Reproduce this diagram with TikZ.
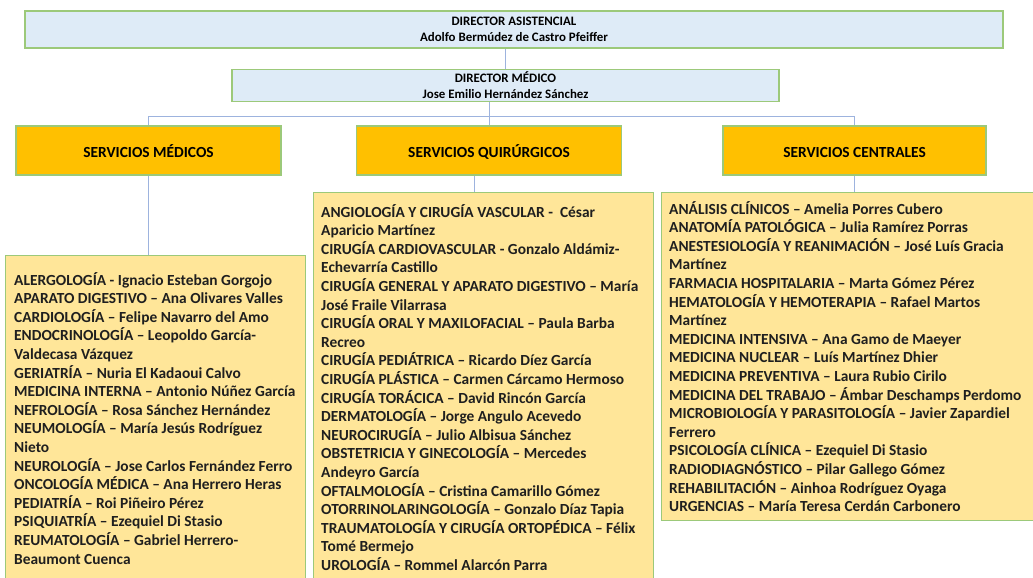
\documentclass[tikz,border=0pt]{standalone}
\usepackage{fontspec}
\setmainfont{Carlito}
\usepackage{xcolor}
\usetikzlibrary{positioning,calc}

\definecolor{boxgreen}{HTML}{9CC97A}
\definecolor{dirblue}{HTML}{DEEBF7}
\definecolor{servorange}{HTML}{FFC000}
\definecolor{listyellow}{HTML}{FFE699}
\definecolor{connblue}{HTML}{9DB3DE}

\begin{document}
\begin{tikzpicture}[x=1pt, y=-1pt, font=\bfseries,
    dir/.style={draw=boxgreen, line width=1.3pt, fill=dirblue, inner sep=0pt, align=center, font=\fontsize{12.9}{16}\selectfont\bfseries},
    serv/.style={draw=boxgreen, line width=1.3pt, fill=servorange, inner sep=0pt, minimum width=265pt, minimum height=49pt, text height=16pt, text depth=2pt, font=\fontsize{15.4}{16}\selectfont\bfseries},
    list/.style={draw=boxgreen, line width=1.3pt, fill=listyellow, inner sep=0pt},
    items/.style={inner sep=0pt, align=left, anchor=north west, text=black!88, font=\fontsize{15.4}{18.6}\selectfont\bfseries},
    conn/.style={draw=connblue, line width=0.9pt}]
  \useasboundingbox (0,0) rectangle (1033,578);
  \clip (0,0) rectangle (1033,578);
  % directores
  \node[dir, minimum width=978pt, minimum height=37pt] (dasis) at (514,29.5) {DIRECTOR ASISTENCIAL\\Adolfo Bermúdez de Castro Pfeiffer};
  \node[dir, minimum width=547pt, minimum height=32pt] (dmed) at (505.5,85.5) {DIRECTOR MÉDICO\\Jose Emilio Hernández Sánchez};
  % servicios
  \node[serv] (smed) at (148.5,150.5) {SERVICIOS MÉDICOS};
  \node[serv] (squi) at (489,150.5) {SERVICIOS QUIRÚRGICOS};
  \node[serv, minimum width=263pt] (scen) at (854.5,150.5) {SERVICIOS CENTRALES};
  % listas
  \node[list, minimum width=300pt, minimum height=360pt, anchor=north west] (lmed) at (5,255) {};
  \node[list, minimum width=340pt, minimum height=420pt, anchor=north west] (lqui) at (313,192) {};
  \node[list, minimum width=390pt, minimum height=328pt, anchor=north west] (lcen) at (661,192) {};
  \coordinate (bus) at (0,116);
  \coordinate (quiout) at ($(squi.south)+(-15,0)$);
  \draw[conn] (dmed.north) -- (dmed.north |- dasis.south);
  \draw[conn] (squi.north) -- (squi.north |- dmed.south);
  \draw[conn] (smed.north) -- (smed.north |- bus) -- (scen.north |- bus) -- (scen.north);
  \draw[conn] (smed.south) -- (lmed.north -| smed.south);
  \draw[conn] (quiout) -- (quiout |- lqui.north);
  \draw[conn] (scen.south) -- (lcen.north -| scen.south);
  \node[items] (tmed) at ($(lmed.north west)+(9,17)$) {%
    ALERGOLOGÍA - Ignacio Esteban Gorgojo\\
    APARATO DIGESTIVO – Ana Olivares Valles\\
    CARDIOLOGÍA – Felipe Navarro del Amo\\
    ENDOCRINOLOGÍA – Leopoldo García-\\
    Valdecasa Vázquez\\
    GERIATRÍA – Nuria El Kadaoui Calvo\\
    MEDICINA INTERNA – Antonio Núñez García\\
    NEFROLOGÍA – Rosa Sánchez Hernández\\
    NEUMOLOGÍA – María Jesús Rodríguez\\
    Nieto\\
    NEUROLOGÍA – Jose Carlos Fernández Ferro\\
    ONCOLOGÍA MÉDICA – Ana Herrero Heras\\
    PEDIATRÍA – Roi Piñeiro Pérez\\
    PSIQUIATRÍA – Ezequiel Di Stasio\\
    REUMATOLOGÍA – Gabriel Herrero-\\
    Beaumont Cuenca};
  \node[items] (tqui) at ($(lqui.north west)+(8,12)$) {%
    ANGIOLOGÍA Y CIRUGÍA VASCULAR -~ César\\
    Aparicio Martínez\\
    CIRUGÍA CARDIOVASCULAR - Gonzalo Aldámiz-\\
    Echevarría Castillo\\
    CIRUGÍA GENERAL Y APARATO DIGESTIVO – María\\
    José Fraile Vilarrasa\\
    CIRUGÍA ORAL Y MAXILOFACIAL – Paula Barba\\
    Recreo\\
    CIRUGÍA PEDIÁTRICA – Ricardo Díez García\\
    CIRUGÍA PLÁSTICA – Carmen Cárcamo Hermoso\\
    CIRUGÍA TORÁCICA – David Rincón García\\
    DERMATOLOGÍA – Jorge Angulo Acevedo\\
    NEUROCIRUGÍA – Julio Albisua Sánchez\\
    OBSTETRICIA Y GINECOLOGÍA – Mercedes\\
    Andeyro García\\
    OFTALMOLOGÍA – Cristina Camarillo Gómez\\
    OTORRINOLARINGOLOGÍA – Gonzalo Díaz Tapia\\
    TRAUMATOLOGÍA Y CIRUGÍA ORTOPÉDICA – Félix\\
    Tomé Bermejo\\
    UROLOGÍA – Rommel Alarcón Parra};
  \node[items] (tcen) at ($(lcen.north west)+(8,9)$) {%
    ANÁLISIS CLÍNICOS – Amelia Porres Cubero\\
    ANATOMÍA PATOLÓGICA – Julia Ramírez Porras\\
    ANESTESIOLOGÍA Y REANIMACIÓN – José Luís Gracia\\
    Martínez\\
    FARMACIA HOSPITALARIA – Marta Gómez Pérez\\
    HEMATOLOGÍA Y HEMOTERAPIA – Rafael Martos\\
    Martínez\\
    MEDICINA INTENSIVA – Ana Gamo de Maeyer\\
    MEDICINA NUCLEAR – Luís Martínez Dhier\\
    MEDICINA PREVENTIVA – Laura Rubio Cirilo\\
    MEDICINA DEL TRABAJO – Ámbar Deschamps Perdomo\\
    MICROBIOLOGÍA Y PARASITOLOGÍA – Javier Zapardiel\\
    Ferrero\\
    PSICOLOGÍA CLÍNICA – Ezequiel Di Stasio\\
    RADIODIAGNÓSTICO – Pilar Gallego Gómez\\
    REHABILITACIÓN – Ainhoa Rodríguez Oyaga\\
    URGENCIAS – María Teresa Cerdán Carbonero};
\end{tikzpicture}
\end{document}
